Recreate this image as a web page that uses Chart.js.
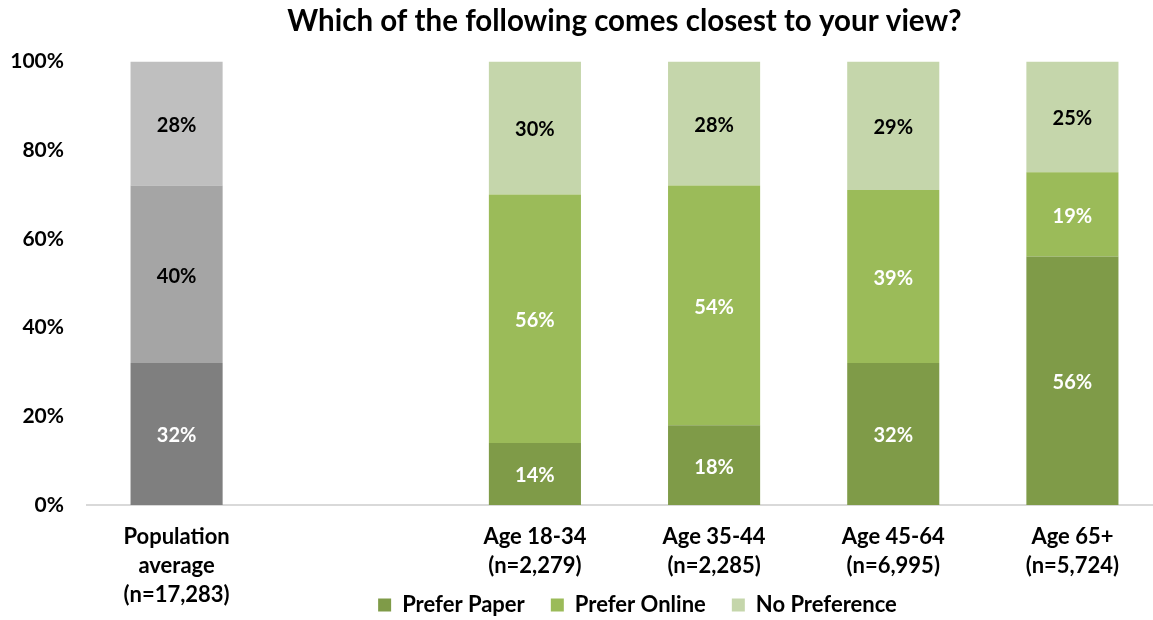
<!DOCTYPE html>
<html>
<head>
<meta charset="utf-8">
<script src="https://cdn.jsdelivr.net/npm/chart.js@4.4.1/dist/chart.umd.min.js"></script>
<style>
  html, body { margin: 0; padding: 0; background: #fff; overflow: hidden; }
  #wrap { width: 1153px; height: 620px; overflow: hidden; }
  canvas { display: block; }
</style>
</head>
<body>
<div id="wrap"><canvas id="chart" width="1163" height="620"></canvas></div>
<script>
// data
const categories = [
  ['Population', 'average', '(n=17,283)'],
  '',
  ['Age 18-34', '(n=2,279)'],
  ['Age 35-44', '(n=2,285)'],
  ['Age 45-64', '(n=6,995)'],
  ['Age 65+', '(n=5,724)']
];
const seriesNames = ['Prefer Paper', 'Prefer Online', 'No Preference'];
const preferPaper = [32, null, 14, 18, 32, 56];
const preferOnline = [40, null, 56, 54, 39, 19];
const noPreference = [28, null, 30, 28, 29, 25];
const yTicks = [0, 20, 40, 60, 80, 100];

// colours: first bar is the population average (grey), the rest are green
const greens = ['#7F9B48', '#9BBB59', '#C5D6AB'];
const greys = ['#7F7F7F', '#A5A5A5', '#BFBFBF'];
const greenText = ['#fff', '#fff', '#000'];
const greyText = ['#fff', '#000', '#000'];

const FONT = 'Lato';
Chart.defaults.font.family = FONT;
Chart.defaults.color = '#000';

const series = [preferPaper, preferOnline, noPreference];
const datasets = series.map((vals, k) => ({
  label: seriesNames[k],
  data: vals,
  backgroundColor: vals.map((v, i) => i === 0 ? greys[k] : greens[k]),
  labelColor: vals.map((v, i) => i === 0 ? greyText[k] : greenText[k]),
  borderWidth: 0,
  categoryPercentage: 1,
  barPercentage: 0.514
}));

// value labels inside each segment
const barLabels = {
  id: 'barLabels',
  afterDatasetsDraw(chart) {
    const ctx = chart.ctx;
    ctx.save();
    ctx.font = 'bold 20px ' + FONT;
    ctx.textAlign = 'center';
    ctx.textBaseline = 'middle';
    chart.data.datasets.forEach((ds, di) => {
      chart.getDatasetMeta(di).data.forEach((bar, i) => {
        const v = ds.data[i];
        if (v == null) return;
        ctx.fillStyle = ds.labelColor[i];
        ctx.fillText(v + '%', bar.x, (bar.y + bar.base) / 2 + 2);
      });
    });
    ctx.restore();
  }
};

// the legend overlaps the bottom of the x labels in the original,
// so move its box up under the age labels and a little right
const LEGEND_PAD = 26;
const LEGEND_FONT = 22;
const legendShift = {
  id: 'legendShift',
  afterLayout(chart) {
    const lg = chart.legend;
    lg.left += 13;
    lg.right += 13;
    lg.top = 605 - LEGEND_PAD - LEGEND_FONT / 2;
    lg.bottom = chart.height;
  }
};

new Chart(document.getElementById('chart'), {
  type: 'bar',
  data: { labels: categories, datasets: datasets },
  options: {
    responsive: false,
    animation: false,
    devicePixelRatio: 1,
    layout: { padding: { left: 0, right: 1, top: 0, bottom: 0 } },
    plugins: {
      title: {
        display: true,
        text: 'Which of the following comes closest to your view?',
        fullSize: false,
        font: { size: 29.5, weight: 'bold' },
        color: '#000',
        padding: { top: 4, bottom: 22 }
      },
      legend: {
        position: 'bottom',
        fullSize: false,
        maxHeight: 10,
        labels: {
          boxWidth: 13,
          boxHeight: 13,
          padding: LEGEND_PAD,
          font: { size: LEGEND_FONT, weight: 'bold' },
          color: '#000',
          generateLabels: () => seriesNames.map((n, k) => ({
            text: n,
            fillStyle: greens[k],
            strokeStyle: greens[k],
            lineWidth: 0,
            hidden: false,
            datasetIndex: k
          }))
        }
      },
      tooltip: { enabled: false }
    },
    scales: {
      x: {
        stacked: true,
        grid: { display: false, drawTicks: false },
        border: { display: true, color: '#D9D9D9', width: 2 },
        ticks: {
          font: { size: 22, weight: 'bold', lineHeight: 1.32 },
          color: '#000',
          padding: 17,
          maxRotation: 0,
          autoSkip: false
        },
        afterFit: s => { s.height = 105; }
      },
      y: {
        stacked: true,
        min: 0,
        max: 100,
        afterBuildTicks: s => { s.ticks = yTicks.map(v => ({ value: v })); },
        ticks: {
          callback: v => v + '%',
          font: { size: 21, weight: 'bold' },
          color: '#000',
          padding: 23
        },
        grid: { display: false, drawTicks: false },
        border: { display: false },
        afterFit: s => { s.width = 87; }
      }
    }
  },
  plugins: [barLabels, legendShift]
});
</script>
</body>
</html>
